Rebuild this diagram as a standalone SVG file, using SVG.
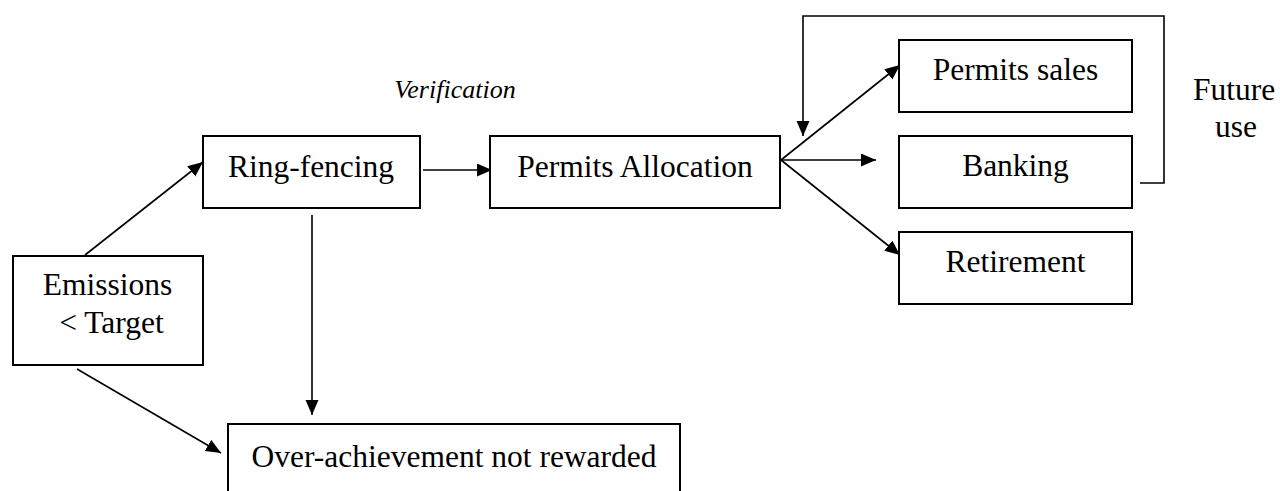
<svg xmlns="http://www.w3.org/2000/svg" width="1280" height="491" viewBox="0 0 1280 491">
<style>
.box{fill:#fff;stroke:#000;stroke-width:2}
.t{font-family:"Liberation Serif","Times New Roman",serif;font-size:31.5px;fill:#000;text-anchor:middle}
.it{font-family:"Liberation Serif","Times New Roman",serif;font-size:26px;font-style:italic;fill:#000;text-anchor:middle}
.c{fill:none;stroke:#000;stroke-width:1.6}
</style>
<defs>
<marker id="ah" markerUnits="userSpaceOnUse" markerWidth="16" markerHeight="14" refX="15" refY="6.5" orient="auto">
<path d="M0,0 L15,6.5 L0,13 z" fill="#000"/>
</marker>
</defs>
<rect width="1280" height="491" fill="#fff"/>
<g id="connectors">
<line class="c" x1="85" y1="255" x2="203" y2="162" marker-end="url(#ah)"/>
<line class="c" x1="423" y1="170" x2="492" y2="170" marker-end="url(#ah)"/>
<line class="c" x1="312" y1="215" x2="312" y2="415" marker-end="url(#ah)"/>
<line class="c" x1="77" y1="369" x2="221" y2="453" marker-end="url(#ah)"/>
<line class="c" x1="781" y1="160" x2="900" y2="65" marker-end="url(#ah)"/>
<line class="c" x1="781" y1="160" x2="876" y2="160" marker-end="url(#ah)"/>
<line class="c" x1="781" y1="160" x2="900" y2="255" marker-end="url(#ah)"/>
<polyline class="c" points="1140,183 1164,183 1164,16 803,16 803,136" marker-end="url(#ah)"/>
</g>
<g id="verification"><text class="it" x="455" y="98">Verification</text></g>
<g id="future-use"><text class="t" x="1234" y="100">Future</text><text class="t" x="1236" y="137">use</text></g>
<g id="emissions"><rect class="box" x="13" y="256" width="190" height="109"/><text class="t" x="107.5" y="295">Emissions</text><text class="t" x="111.5" y="333">&lt; Target</text></g>
<g id="ring-fencing"><rect class="box" x="203" y="136" width="217" height="72"/><text class="t" x="311" y="177">Ring-fencing</text></g>
<g id="permits-allocation"><rect class="box" x="490" y="136" width="290" height="72"/><text class="t" x="635" y="177">Permits Allocation</text></g>
<g id="permits-sales"><rect class="box" x="899" y="40" width="233" height="72"/><text class="t" x="1015.5" y="80">Permits sales</text></g>
<g id="banking"><rect class="box" x="899" y="136" width="233" height="72"/><text class="t" x="1015.5" y="176">Banking</text></g>
<g id="retirement"><rect class="box" x="899" y="232" width="233" height="72"/><text class="t" x="1015.5" y="272">Retirement</text></g>
<g id="over-achievement"><rect class="box" x="228" y="424" width="452" height="80"/><text class="t" x="454" y="467">Over-achievement not rewarded</text></g>
</svg>
